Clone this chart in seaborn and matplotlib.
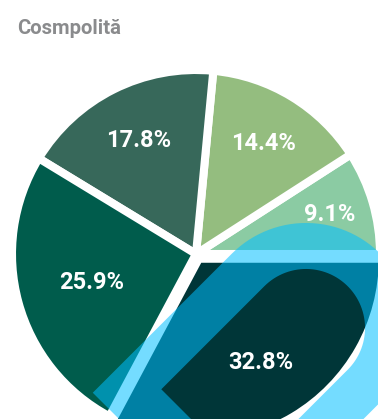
import numpy as np
import matplotlib
matplotlib.use("Agg")
import matplotlib.pyplot as plt
from matplotlib.path import Path
from matplotlib.patches import PathPatch
import seaborn as sns

# Share of each segment (%), drawn counter-clockwise from 3 o'clock
shares = [9.1, 14.4, 17.8, 25.9, 32.8]
share_labels = [f"{v}%" for v in shares]
slice_colors = ["#8BCBA3", "#94BD7F", "#37685A", "#005C4C", "#003638"]
title = "Cosmpolită"

# Styling
explode = [0, 0, 0, 0, 0.03]
label_dist = [0.76, 0.705, 0.69, 0.59, 0.656]

sns.set_theme(style="white")
plt.rcParams["font.family"] = ["Roboto", "DejaVu Sans"]

W, H = 378, 419
fig = plt.figure(figsize=(W / 100, H / 100), dpi=100)
ax = fig.add_axes([0, 0, 1, 1])

palette = sns.color_palette(slice_colors)
wedges, _ = ax.pie(
    shares,
    colors=palette,
    startangle=0,
    counterclock=True,
    explode=explode,
    radius=1.0,
    wedgeprops=dict(edgecolor="white", linewidth=5.8, joinstyle="round"),
)

# Percentage labels inside the slices
for w, txt, d in zip(wedges, share_labels, label_dist):
    mid = np.deg2rad((w.theta1 + w.theta2) / 2)
    cx, cy = w.center
    ax.text(cx + d * w.r * np.cos(mid), cy + d * w.r * np.sin(mid), txt,
            ha="center", va="center", color="white", fontsize=17,
            fontweight="bold", zorder=10)

# Translucent leaf-shaped badge over the lower right of the pie
scale = 184.0
c = np.array([0.598, -0.402])
u = np.array([1.0, 1.0]) / np.sqrt(2)
n = np.array([1.0, -1.0]) / np.sqrt(2)


def leaf(radius, tip_u, reverse=False):
    pts = []
    tip = c + tip_u * u - radius * n
    pts.append(tip)
    # straight upper-left side into rounded end
    base = np.arctan2(-n[1], -n[0])
    for a in np.linspace(0, -np.pi, 60):
        ang = base + a
        pts.append(c + radius * np.array([np.cos(ang), np.sin(ang)]))
    end = c + radius * n
    pts.append(end - 3.0 * u)
    pts.append(tip + 2 * radius * n - 3.0 * u)
    pts.append(tip + 2 * radius * n)
    pts.append(tip)
    pts = np.array(pts)
    if reverse:
        pts = pts[::-1]
    return pts


outer = leaf(105 / scale, -196.6 / scale)
inner = leaf(59 / scale, -145.7 / scale, reverse=True)
verts = np.vstack([outer, inner])
codes = ([Path.MOVETO] + [Path.LINETO] * (len(outer) - 2) + [Path.CLOSEPOLY]
         + [Path.MOVETO] + [Path.LINETO] * (len(inner) - 2) + [Path.CLOSEPOLY])
badge = PathPatch(Path(verts, codes), facecolor=(0.0, 0.749, 1.0),
                  alpha=0.545, edgecolor="none", zorder=5)
ax.add_patch(badge)

ax.set_aspect("auto")
ax.set_xlim(-196 / scale, (W - 196) / scale)
ax.set_ylim((254 - H) / scale, 254 / scale)
ax.axis("off")

fig.text(17 / W, 1 - 28 / H, title, ha="left", va="center",
         color="#8A8B8D", fontsize=14.6, fontweight="bold")

fig.savefig("out.png", dpi=100, facecolor="white")
